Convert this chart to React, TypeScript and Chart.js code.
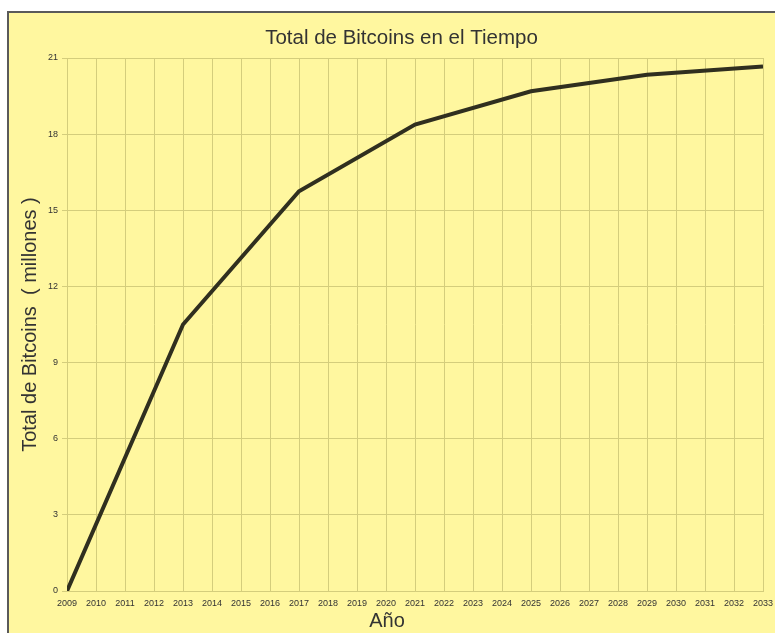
import React, { useEffect, useRef } from "react";
import { Chart, registerables } from "chart.js";

Chart.register(...registerables);

const halvingYears = [2009, 2013, 2017, 2021, 2025, 2029, 2033];
const totalBitcoins = [0, 10.5, 15.75, 18.375, 19.69, 20.34, 20.67];
const chartTitle = "Total de Bitcoins en el Tiempo";
const xTitle = "Año";
const yTitle = "Total de Bitcoins  ( millones )";

const BG = "#fff79f";
const GRID = "#d4cd7c";
const LINE = "#302f1f";
const TEXT = "#333333";
const FONT = "Arial, 'Liberation Sans', sans-serif";

const framePlugin = {
  id: "frame",
  beforeDraw(chart: any) {
    const { ctx, width, height } = chart;
    ctx.save();
    ctx.fillStyle = "#ffffff";
    ctx.fillRect(0, 0, width, height);
    ctx.fillStyle = BG;
    ctx.fillRect(7, 11, width - 7, height - 11);
    ctx.strokeStyle = "#5a5a5a";
    ctx.lineWidth = 2;
    ctx.beginPath();
    ctx.moveTo(8, height);
    ctx.lineTo(8, 12);
    ctx.lineTo(width, 12);
    ctx.stroke();
    ctx.restore();
  },
  afterLayout(chart: any) {
    // shift chart title and x-axis title to the page centre like the original
    const tb = chart.titleBlock;
    if (tb) {
      tb.left += 20;
      tb.right += 20;
    }
    const sx = chart.scales.x;
    if (sx) {
      const proto = Object.getPrototypeOf(sx);
      sx.drawTitle = function () {
        const l = this.left;
        const r = this.right;
        const shift = (l + r) / 2 - 387;
        this.left = l - shift;
        this.right = r - shift;
        proto.drawTitle.call(this);
        this.left = l;
        this.right = r;
      };
    }
  },
};

export default function App() {
  const ref = useRef<HTMLCanvasElement>(null);
  useEffect(() => {
    if (!ref.current) return;
    const chart = new Chart(ref.current, {
      type: "line",
      data: {
        datasets: [
          {
            data: halvingYears.map((y, i) => ({ x: y, y: totalBitcoins[i] })),
            borderColor: LINE,
            borderWidth: 4,
            pointRadius: 0,
            tension: 0,
            fill: false,
          },
        ],
      },
      options: {
        animation: false,
        responsive: false,
        layout: { padding: { top: 0, left: 0, right: 12, bottom: 0 }, autoPadding: false },
        plugins: {
          legend: { display: false },
          tooltip: { enabled: false },
          title: {
            display: true,
            text: chartTitle,
            color: TEXT,
            font: { family: FONT, size: 20.5, weight: "normal", lineHeight: 1.2 },
            padding: { top: 26, bottom: 7.4 },
          },
        },
        scales: {
          x: {
            type: "linear",
            min: 2009,
            max: 2033,
            afterFit: (s: any) => {
              s.height = 42;
              s.paddingLeft = 0;
              s.paddingRight = 0;
            },
            ticks: {
              stepSize: 1,
              autoSkip: false,
              maxRotation: 0,
              color: TEXT,
              padding: 7,
              font: { family: FONT, size: 9 },
              callback: (v: any) => String(v),
            },
            grid: { color: GRID, lineWidth: 1, drawTicks: false },
            border: { color: GRID },
            title: {
              display: true,
              text: xTitle,
              color: TEXT,
              font: { family: FONT, size: 20, lineHeight: 1.2 },
              padding: { top: 0, bottom: 0 },
            },
          },
          y: {
            min: 0,
            max: 21,
            afterFit: (s: any) => { s.width = 67; },
            ticks: {
              stepSize: 3,
              color: TEXT,
              padding: 4,
              font: { family: FONT, size: 9 },
            },
            grid: { color: GRID, lineWidth: 1, tickLength: 5 },
            border: { color: GRID },
            title: {
              display: true,
              text: yTitle,
              color: TEXT,
              font: { family: FONT, size: 20, lineHeight: 1.2 },
              padding: { top: 18, bottom: 0 },
            },
          },
        },
      },
      plugins: [framePlugin],
    } as any);
    return () => chart.destroy();
  }, []);
  return (
    <div style={{ position: "fixed", left: 0, top: 0, width: 775, height: 633 }}>
      <canvas ref={ref} width={775} height={633} style={{ display: "block" }} />
    </div>
  );
}
